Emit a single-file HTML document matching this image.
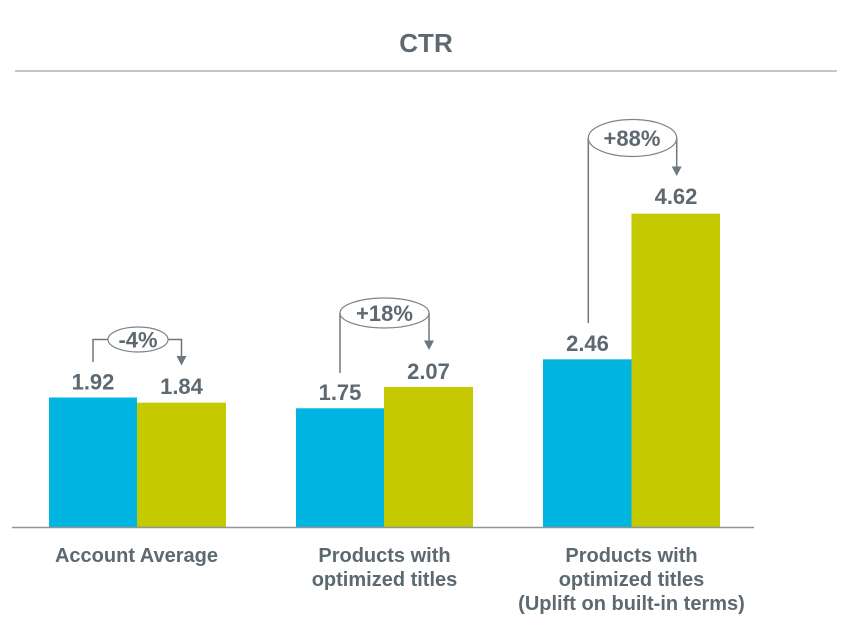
<!DOCTYPE html>
<html>
<head>
<meta charset="utf-8">
<style>
  html,body{margin:0;padding:0;background:#fff;}
  svg{display:block;}
  text{font-family:"Liberation Sans",Arial,sans-serif;font-weight:bold;fill:#5d6970;}
</style>
</head>
<body>
<svg width="843" height="644" viewBox="0 0 843 644" xmlns="http://www.w3.org/2000/svg">
  <!-- title -->
  <text x="426" y="52" font-size="26" text-anchor="middle">CTR</text>
  <line x1="15" y1="71" x2="837" y2="71" stroke="#c1c8ca" stroke-width="2"/>

  <!-- bars -->
  <rect x="49" y="397.5" width="88" height="130" fill="#00b5e1"/>
  <rect x="137" y="402.7" width="89" height="124.8" fill="#c5c900"/>
  <rect x="296" y="408.3" width="88" height="119.2" fill="#00b5e1"/>
  <rect x="384" y="387" width="89" height="140.5" fill="#c5c900"/>
  <rect x="543" y="359.3" width="88.5" height="168.2" fill="#00b5e1"/>
  <rect x="631.5" y="213.7" width="88.5" height="313.8" fill="#c5c900"/>

  <!-- axis -->
  <line x1="12" y1="527.5" x2="754" y2="527.5" stroke="#8c979b" stroke-width="1.6"/>

  <!-- value labels -->
  <g font-size="22" text-anchor="middle">
    <text x="93" y="389.6">1.92</text>
    <text x="181.5" y="394">1.84</text>
    <text x="340" y="400">1.75</text>
    <text x="428.5" y="379">2.07</text>
    <text x="587.5" y="351">2.46</text>
    <text x="676" y="204">4.62</text>
  </g>

  <!-- annotations -->
  <g fill="none" stroke="#6d787e" stroke-width="1.5">
    <path d="M93 362 V339.5 H108"/>
    <path d="M168 339.5 H181.5 V357"/>
    <path d="M340 373 V313"/>
    <path d="M429 313 V341"/>
    <path d="M588.3 323 V138"/>
    <path d="M676.7 138 V167"/>
  </g>
  <g fill="none" stroke="#7a8489" stroke-width="1.2">
    <ellipse cx="138" cy="339.5" rx="30" ry="12.5"/>
    <ellipse cx="384.5" cy="313" rx="44.5" ry="15"/>
    <ellipse cx="632.5" cy="138" rx="44.2" ry="18.5"/>
  </g>
  <g fill="#6d787e">
    <polygon points="176.5,356 186.5,356 181.5,365.5"/>
    <polygon points="424,340.5 434,340.5 429,350"/>
    <polygon points="671.7,166.5 681.7,166.5 676.7,176"/>
  </g>
  <g font-size="22" text-anchor="middle">
    <text x="138" y="347.4">-4%</text>
    <text x="384.5" y="321">+18%</text>
    <text x="632" y="146">+88%</text>
  </g>

  <!-- category labels -->
  <g font-size="20" text-anchor="middle">
    <text x="136.5" y="562">Account Average</text>
    <text x="384.5" y="562">Products with</text>
    <text x="384.5" y="586">optimized titles</text>
    <text x="631.5" y="562">Products with</text>
    <text x="631.5" y="586">optimized titles</text>
    <text x="631.5" y="610">(Uplift on built-in terms)</text>
  </g>
</svg>
</body>
</html>
